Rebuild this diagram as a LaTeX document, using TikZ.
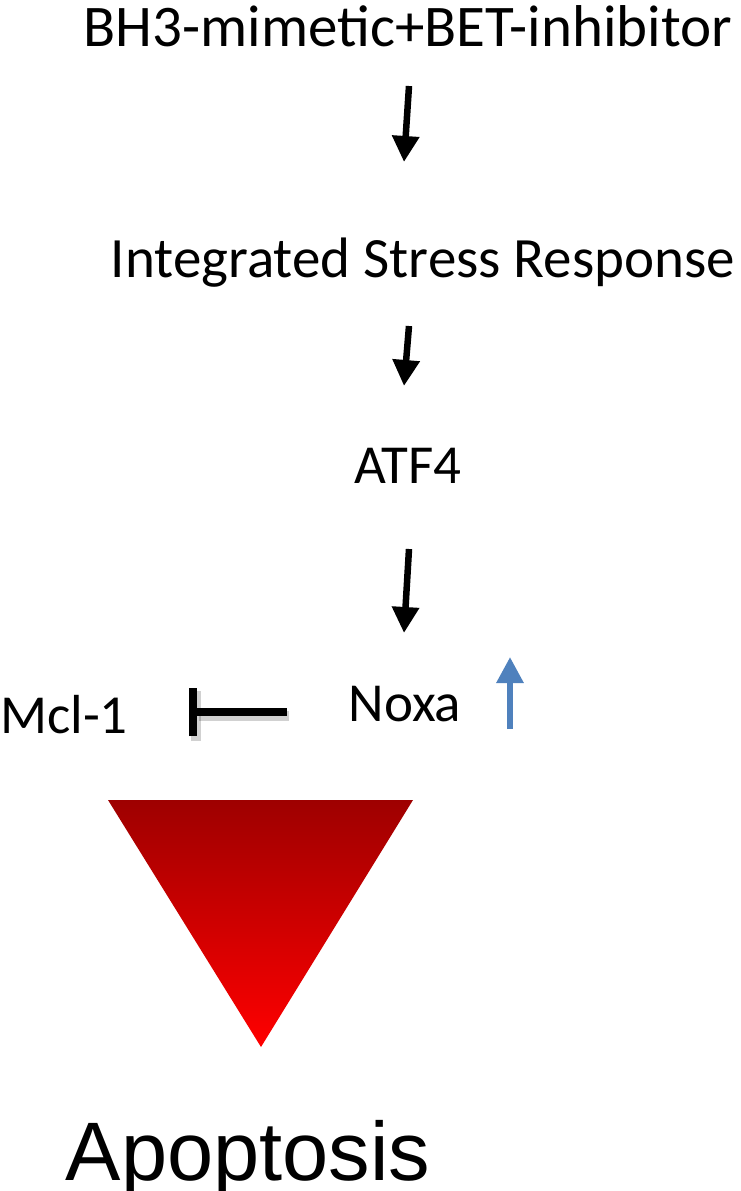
\documentclass[tikz,border=0pt]{standalone}
\usepackage{fontspec}
\setmainfont{Carlito}
\newfontfamily\arialfont{Liberation Sans}
\usetikzlibrary{arrows.meta}
\definecolor{upblue}{RGB}{79,129,189}
\definecolor{darkred}{RGB}{158,0,0}
\definecolor{brightred}{RGB}{255,0,0}
\tikzset{
  lbl/.style={anchor=base, inner sep=0pt, font=\fontsize{55}{60}\selectfont},
  toplbl/.style={anchor=base, inner sep=0pt, font=\fontsize{59}{64}\selectfont},
  bigarrow/.style={line width=6.5pt, -{Triangle[width=26pt,length=26pt]}},
  uparrow/.style={line width=6pt, upblue, -{Triangle[width=26pt,length=26pt]}},
  inhib/.style={line width=8pt, -{Bar[width=48pt]}},
  inhibshadow/.style={line width=10pt, black, opacity=0.18, -{Bar[width=50pt]}}
}
\begin{document}
\begin{tikzpicture}[x=1pt,y=-1pt]
\useasboundingbox (0,0) rectangle (741,1191);
\node[toplbl] (bh3) at (408,46) {BH3-mimetic+BET-inhibitor};
\node[lbl, font=\fontsize{57}{62}\selectfont] (isr) at (423,277) {Integrated Stress Response};
\node[lbl] (atf4) at (408,483) {ATF4};
\node[lbl] (noxa) at (405,721) {Noxa};
\node[lbl] (mcl) at (64,733) {Mcl-1};
\node[anchor=base, inner sep=0pt, font=\arialfont\fontsize{83}{90}\selectfont] (apop) at (248,1180) {Apoptosis};
% arrow end points
\coordinate (a1s) at (409,86);  \coordinate (a1e) at (404,162);
\coordinate (a2s) at (409,326); \coordinate (a2e) at (404,386);
\coordinate (a3s) at (409,549); \coordinate (a3e) at (404,633);
\coordinate (us) at (510,729);  \coordinate (ue) at (510,657);
\coordinate (is) at (287,712);  \coordinate (ie) at (189,712);
\draw[bigarrow] (a1s) -- (a1e);
\draw[bigarrow] (a2s) -- (a2e);
\draw[bigarrow] (a3s) -- (a3e);
\draw[uparrow] (us) -- (ue);
\draw[inhibshadow] ([shift={(2,4)}]is) -- ([shift={(2,4)}]ie);
\draw[inhib] (is) -- (ie);
\shade[top color=darkred, bottom color=brightred] (108,800) -- (413,800) -- (261,1047) -- cycle;
\end{tikzpicture}
\end{document}
